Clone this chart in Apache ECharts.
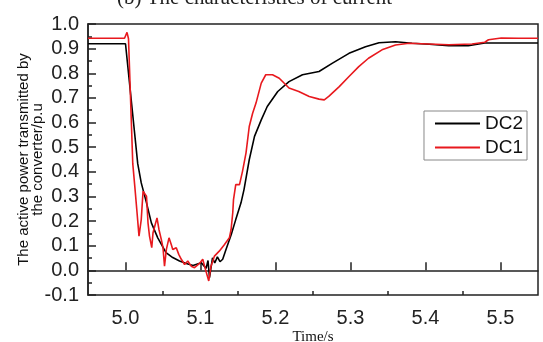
<!DOCTYPE html>
<html>
<head>
<meta charset="utf-8">
<script src="https://cdn.jsdelivr.net/npm/echarts@6/dist/echarts.min.js"></script>
<style>
html,body{margin:0;padding:0;background:#fff;}
#chart{width:543px;height:342px;}
</style>
</head>
<body>
<div id="chart"></div>
<script>
// ---- data ----
const dc2Time = [4.95, 5.0, 5.0163, 5.021, 5.028, 5.0345, 5.043, 5.054, 5.063, 5.072, 5.081, 5.090, 5.101, 5.1075, 5.110, 5.112, 5.116, 5.119, 5.1225, 5.126, 5.1296, 5.134, 5.141, 5.147, 5.154, 5.158, 5.165, 5.172, 5.181, 5.189, 5.203, 5.218, 5.236, 5.258, 5.276, 5.298, 5.32, 5.338, 5.36, 5.382, 5.405, 5.431, 5.457, 5.479, 5.55];
const dc2Power = [0.92, 0.92, 0.433, 0.355, 0.274, 0.193, 0.132, 0.072, 0.052, 0.038, 0.028, 0.020, 0.031, 0.008, 0.04, -0.03, 0.051, 0.03, 0.055, 0.035, 0.045, 0.085, 0.146, 0.206, 0.274, 0.328, 0.449, 0.544, 0.611, 0.665, 0.726, 0.766, 0.794, 0.807, 0.841, 0.881, 0.908, 0.924, 0.928, 0.922, 0.918, 0.912, 0.912, 0.923, 0.923];

const dc1Time = [4.95, 4.9987, 5.002, 5.004, 5.0097, 5.0124, 5.0154, 5.018, 5.021, 5.0234, 5.0256, 5.028, 5.030, 5.032, 5.035, 5.0367, 5.039, 5.042, 5.0446, 5.0478, 5.050, 5.052, 5.0545, 5.058, 5.061, 5.063, 5.0677, 5.071, 5.0744, 5.0788, 5.083, 5.0876, 5.092, 5.0987, 5.103, 5.1066, 5.111, 5.114, 5.1186, 5.125, 5.132, 5.1385, 5.1408, 5.143, 5.144, 5.147, 5.152, 5.156, 5.1607, 5.165, 5.1695, 5.174, 5.181, 5.187, 5.196, 5.205, 5.218, 5.231, 5.245, 5.258, 5.265, 5.271, 5.285, 5.298, 5.311, 5.324, 5.342, 5.36, 5.378, 5.404, 5.431, 5.462, 5.479, 5.484, 5.501, 5.524, 5.55];
const dc1Power = [0.942, 0.942, 0.966, 0.94, 0.433, 0.341, 0.234, 0.139, 0.206, 0.321, 0.328, 0.301, 0.193, 0.139, 0.092, 0.153, 0.179, 0.213, 0.166, 0.125, 0.092, 0.017, 0.085, 0.132, 0.105, 0.085, 0.092, 0.065, 0.045, 0.024, 0.038, 0.017, 0.011, 0.028, 0.045, 0.004, -0.043, 0.017, 0.058, 0.078, 0.105, 0.132, 0.166, 0.234, 0.287, 0.348, 0.348, 0.402, 0.477, 0.584, 0.638, 0.679, 0.760, 0.794, 0.794, 0.780, 0.740, 0.726, 0.706, 0.695, 0.692, 0.706, 0.746, 0.787, 0.827, 0.861, 0.895, 0.915, 0.922, 0.919, 0.916, 0.919, 0.926, 0.936, 0.943, 0.942, 0.942];

const xMajorTicks = [5.0, 5.1, 5.2, 5.3, 5.4, 5.5];
const xMinorTicks = [5.05, 5.15, 5.25, 5.35, 5.45];
const seriesNames = ['DC2', 'DC1'];
const titleText = '(b) The characteristics of current';
const xName = 'Time/s';
const yName = 'The active power transmitted by\nthe converter/p.u';

const zip = (a, b) => a.map((t, i) => [t, b[i]]);

const chart = echarts.init(document.getElementById('chart'), null, {renderer: 'canvas'});
const sans = 'Liberation Sans, Arial, sans-serif';
const serif = 'Liberation Serif, Times New Roman, serif';

chart.setOption({
  animation: false,
  backgroundColor: '#fff',
  title: {
    text: titleText,
    left: 117, top: -12,
    padding: 0,
    textStyle: {fontFamily: serif, fontSize: 21, fontWeight: 'normal', color: '#222'}
  },
  grid: {left: 88, right: 5, top: 24, bottom: 47, show: true, borderColor: '#222', borderWidth: 1.5, containLabel: false, outerBoundsMode: 'none'},
  legend: {
    data: seriesNames,
    orient: 'vertical',
    right: 16, top: 111,
    itemWidth: 45, itemHeight: 14, itemGap: 5,
    padding: [3, 4, 3, 11],
    borderColor: '#888', borderWidth: 1,
    textStyle: {fontFamily: sans, fontSize: 19, color: '#111'},
    icon: 'path://M0,6 L45,6 L45,8 L0,8 Z'
  },
  xAxis: [{
    type: 'value', min: 4.95, max: 5.55,
    position: 'bottom',
    name: xName, nameLocation: 'middle', nameGap: 35, nameMoveOverlap: false,
    nameTextStyle: {fontFamily: serif, fontSize: 15, color: '#111'},
    axisLine: {show: true, lineStyle: {color: '#222', width: 1.5}},
    axisTick: {show: true, inside: true, length: 8, customValues: xMajorTicks, lineStyle: {color: '#222', width: 1.5}},
    axisLabel: {show: true, customValues: xMajorTicks, margin: 13, fontFamily: sans, fontSize: 20, color: '#222', formatter: v => v.toFixed(1)},
    splitLine: {show: false}
  }, {
    type: 'value', min: 4.95, max: 5.55,
    position: 'bottom',
    axisLine: {show: false},
    axisTick: {show: true, inside: true, length: 4, customValues: xMinorTicks, lineStyle: {color: '#222', width: 1.5}},
    axisLabel: {show: false},
    splitLine: {show: false}
  }],
  yAxis: {
    type: 'value', min: -0.1, max: 1.0, interval: 0.1,
    name: yName, nameLocation: 'middle', nameGap: 43, nameMoveOverlap: false,
    nameTextStyle: {fontFamily: sans, fontSize: 15, lineHeight: 14, color: '#111'},
    axisLine: {show: true, lineStyle: {color: '#222', width: 1.5}},
    axisTick: {show: true, inside: true, length: 8, lineStyle: {color: '#222', width: 1.5}},
    minorTick: {show: true, splitNumber: 2, length: 4, lineStyle: {color: '#222', width: 1.5}},
    axisLabel: {margin: 9, fontFamily: sans, fontSize: 20, color: '#222', formatter: v => v.toFixed(1)},
    splitLine: {show: false}
  },
  series: [{
    name: 'DC2', type: 'line', showSymbol: false, symbol: 'none',
    data: zip(dc2Time, dc2Power),
    lineStyle: {color: '#000', width: 1.6},
    itemStyle: {color: '#000'}
  }, {
    name: 'DC1', type: 'line', showSymbol: false, symbol: 'none',
    data: zip(dc1Time, dc1Power),
    lineStyle: {color: '#e8191e', width: 1.6},
    itemStyle: {color: '#e8191e'}
  }]
});
</script>
</body>
</html>
